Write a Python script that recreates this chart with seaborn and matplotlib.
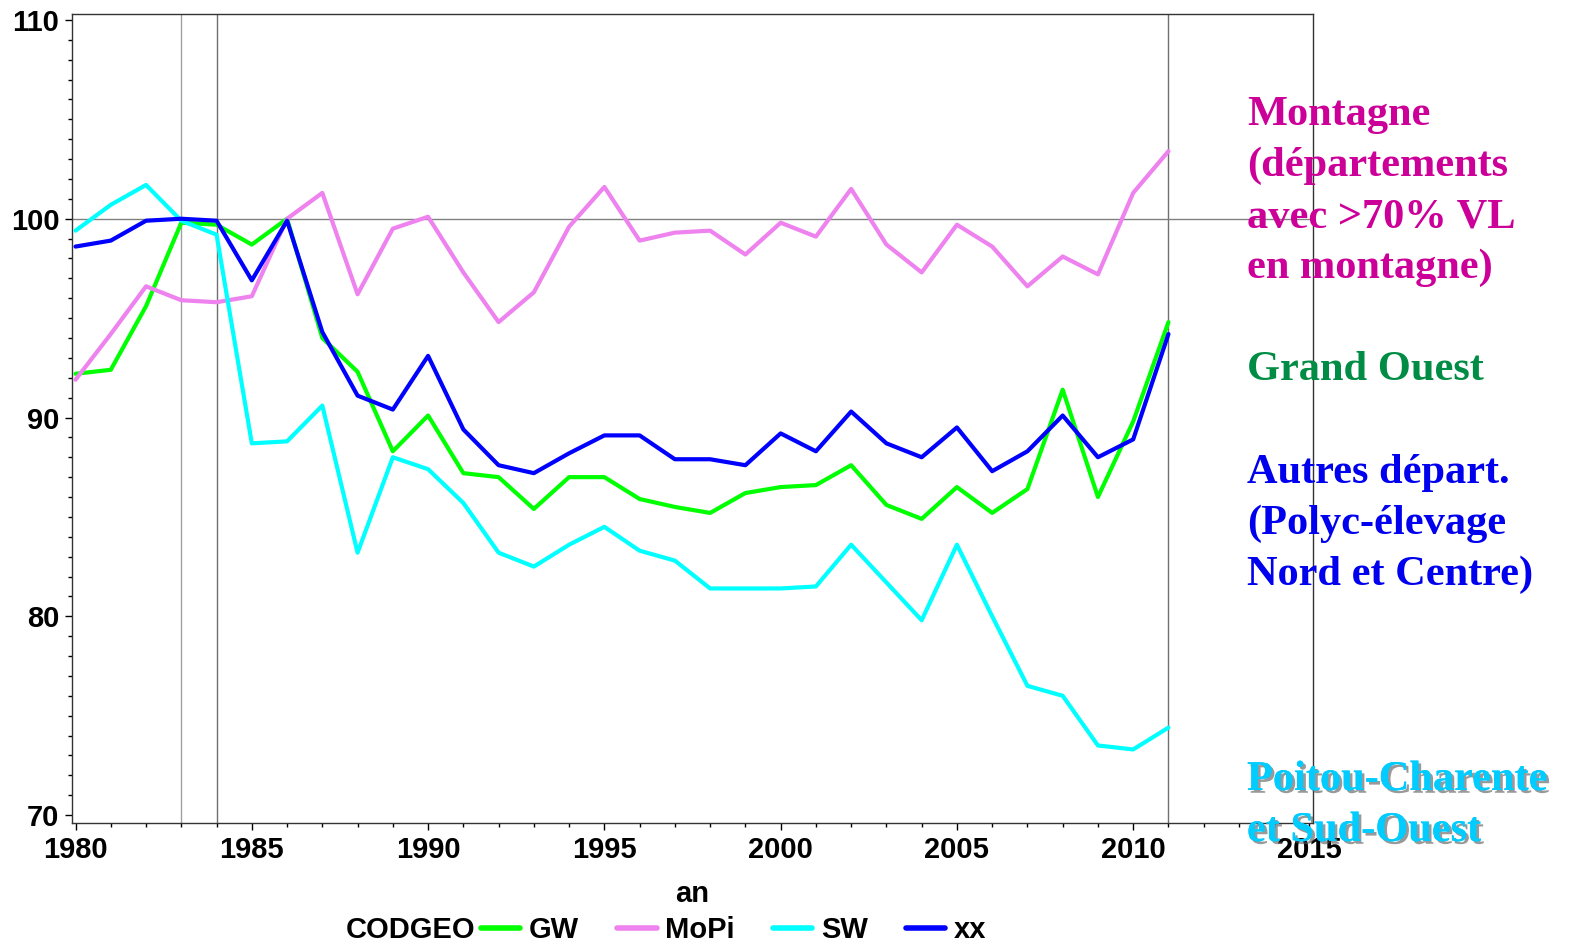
import numpy as np
import pandas as pd
import matplotlib
matplotlib.use('Agg')
import matplotlib.pyplot as plt
import matplotlib.patheffects as pe
from matplotlib.ticker import MultipleLocator
import seaborn as sns

# Values (index, 1980-2011)
years = list(range(1980, 2012))
gw = [92.2, 92.4, 95.6, 99.8, 99.7, 98.7, 100.0, 94.0, 92.3, 88.3,
      90.1, 87.2, 87.0, 85.4, 87.0, 87.0, 85.9, 85.5, 85.2, 86.2,
      86.5, 86.6, 87.6, 85.6, 84.9, 86.5, 85.2, 86.4, 91.4, 86.0,
      89.8, 94.8]
mopi = [91.9, 94.2, 96.6, 95.9, 95.8, 96.1, 100.0, 101.3, 96.2, 99.5,
        100.1, 97.3, 94.8, 96.3, 99.6, 101.6, 98.9, 99.3, 99.4, 98.2,
        99.8, 99.1, 101.5, 98.7, 97.3, 99.7, 98.6, 96.6, 98.1, 97.2,
        101.3, 103.4]
sw = [99.4, 100.7, 101.7, 99.9, 99.2, 88.7, 88.8, 90.6, 83.2, 88.0,
      87.4, 85.7, 83.2, 82.5, 83.6, 84.5, 83.3, 82.8, 81.4, 81.4,
      81.4, 81.5, 83.6, 81.7, 79.8, 83.6, 80.0, 76.5, 76.0, 73.5,
      73.3, 74.4]
xx = [98.6, 98.9, 99.9, 100.0, 99.9, 96.9, 99.9, 94.3, 91.1, 90.4,
      93.1, 89.4, 87.6, 87.2, 88.2, 89.1, 89.1, 87.9, 87.9, 87.6,
      89.2, 88.3, 90.3, 88.7, 88.0, 89.5, 87.3, 88.3, 90.1, 88.0,
      88.9, 94.2]
codgeo = ['GW', 'MoPi', 'SW', 'xx']
colors = {'GW': '#00ff00', 'MoPi': '#ee82ee', 'SW': '#00ffff', 'xx': '#0000ff'}

ref_years = [1983, 1984, 2011]

labels = [
    (['Montagne', '(départements', 'avec >70% VL', 'en montagne)'], '#cc0099', 125),
    (['Grand Ouest'], '#008c44', 380),
    (['Autres départ.', '(Polyc-élevage', 'Nord et Centre)'], '#0000ee', 483),
    (['Poitou-Charente', 'et Sud-Ouest'], '#00ccff', 790),
]

df = pd.DataFrame({'an': years * 4,
                   'CODGEO': np.repeat(codgeo, len(years)),
                   'val': gw + mopi + sw + xx})

sns.set_style('ticks')
plt.rcParams['font.family'] = ['Liberation Sans', 'DejaVu Sans']
plt.rcParams['font.weight'] = 'bold'
plt.rcParams['text.color'] = 'black'
plt.rcParams['xtick.color'] = 'black'
plt.rcParams['ytick.color'] = 'black'
plt.rcParams['axes.labelcolor'] = 'black'

W, H = 1570, 943
fig = plt.figure(figsize=(W / 100, H / 100), dpi=100)
ax = fig.add_axes([72 / W, 1 - 823 / H, (1313 - 72) / W, (823 - 14) / H])

for yr in ref_years:
    ax.axvline(yr, color='#a0a0a0' if yr == 1983 else '#707070', lw=1, zorder=1)
ax.axhline(100, color='#808080', lw=1, zorder=1)

sns.lineplot(data=df, x='an', y='val', hue='CODGEO', hue_order=codgeo,
             palette=colors, lw=3, ax=ax, zorder=3)

ax.set_xlim(1979.9, 2015.1)
ax.set_ylim(69.6, 110.3)
ax.xaxis.set_major_locator(MultipleLocator(5))
ax.xaxis.set_minor_locator(MultipleLocator(1))
ax.yaxis.set_major_locator(MultipleLocator(10))
ax.yaxis.set_minor_locator(MultipleLocator(1))
ax.tick_params(which='major', length=5, width=1, labelsize=21, pad=4)
ax.tick_params(which='minor', length=3, width=1)
for lab in ax.get_xticklabels() + ax.get_yticklabels():
    lab.set_fontweight('bold')
for s in ax.spines.values():
    s.set_linewidth(1)
    s.set_color('#333333')
ax.set_xlabel('an', fontsize=21, fontweight='bold', labelpad=12)
ax.set_ylabel('')

sns.move_legend(ax, loc='center left', bbox_to_anchor=(481 / W, 1 - 930 / H),
                bbox_transform=fig.transFigure, ncol=4, title=None, frameon=False,
                fontsize=21, handlelength=1.35, handletextpad=0.3,
                columnspacing=1.3, borderpad=0, borderaxespad=0)
for t in ax.get_legend().get_texts():
    t.set_fontweight('bold')
for h in ax.get_legend().get_lines():
    h.set_linewidth(4)
fig.text(475 / W, 1 - 930 / H, 'CODGEO', ha='right', va='center',
         fontsize=21, fontweight='bold')

# Region names to the right of the plot
for lines, col, base in labels:
    for i, line in enumerate(lines):
        t = fig.text(1247 / W, 1 - (base + i * 51) / H, line, color=col,
                     fontsize=30.5, fontweight='bold', va='baseline', ha='left',
                     family=['Liberation Serif', 'DejaVu Serif'], zorder=10)
        if col == '#00ccff':
            t.set_path_effects([pe.withSimplePatchShadow(offset=(2, -2),
                                shadow_rgbFace='#555555', alpha=0.6), pe.Normal()])

fig.savefig('out.png', dpi=100)
